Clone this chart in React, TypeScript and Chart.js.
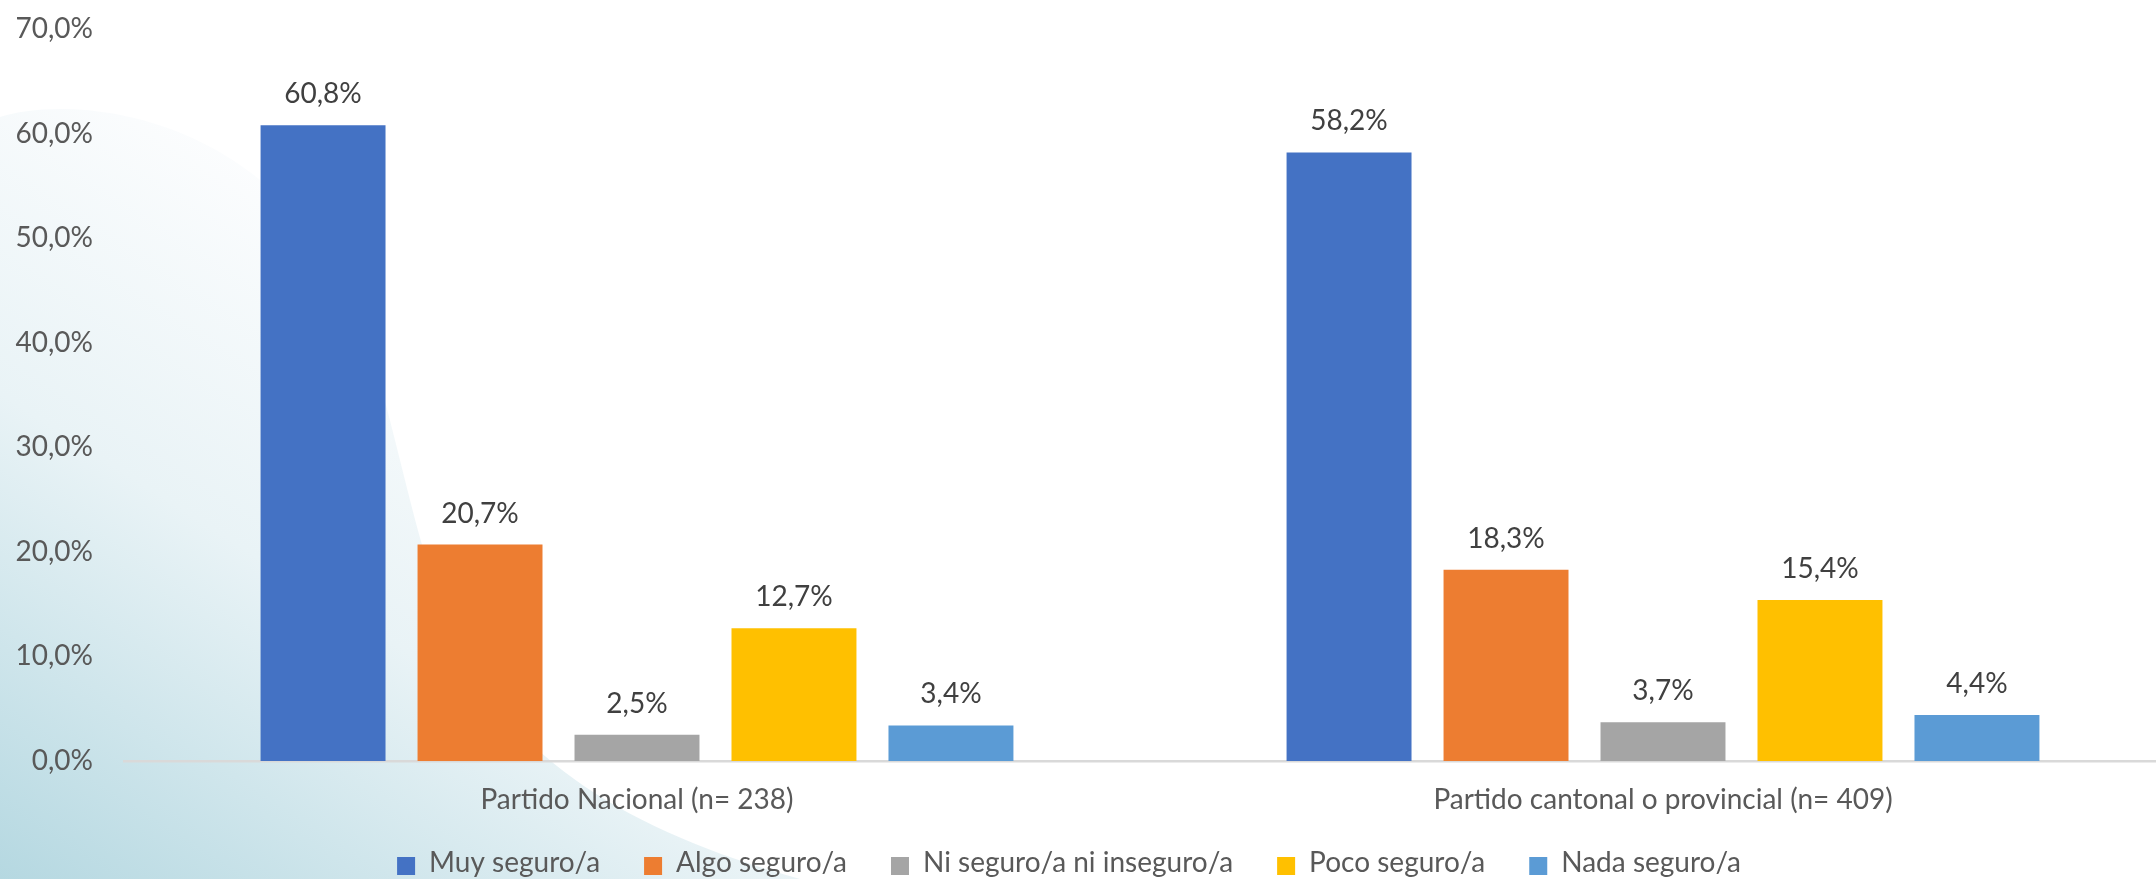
import React, { useEffect, useRef } from "react";
import { Chart, registerables } from "chart.js";

Chart.register(...registerables);

const categories = ["Partido Nacional (n= 238)", "Partido cantonal o provincial (n= 409)"];
const seriesNames = ["Muy seguro/a", "Algo seguro/a", "Ni seguro/a ni inseguro/a", "Poco seguro/a", "Nada seguro/a"];
const muySeguro = [60.8, 58.2];
const algoSeguro = [20.7, 18.3];
const niSeguro = [2.5, 3.7];
const pocoSeguro = [12.7, 15.4];
const nadaSeguro = [3.4, 4.4];
const seriesColors = ["#4472C4", "#ED7D31", "#A5A5A5", "#FFC000", "#5B9BD5"];
const yTicks = [0, 10, 20, 30, 40, 50, 60, 70];

const VIEW_W = 2156;
const VIEW_H = 879;
const CANVAS_W = 2176;
const FONT = "Lato";
const FONT_SIZE = 28;

const fmt = (v: number) => v.toFixed(1).replace(".", ",") + "%";

const backgroundPlugin = {
  id: "bgSwoosh",
  beforeDraw(chart: any) {
    const ctx = chart.ctx;
    ctx.save();
    ctx.fillStyle = "#ffffff";
    ctx.fillRect(0, 0, chart.width, chart.height);
    ctx.beginPath();
    ctx.moveTo(0, 117);
    ctx.bezierCurveTo(60, 98, 210, 105, 310, 230);
    ctx.bezierCurveTo(390, 330, 395, 500, 455, 640);
    ctx.bezierCurveTo(515, 760, 625, 830, 800, 879);
    ctx.lineTo(0, 879);
    ctx.closePath();
    const g = ctx.createLinearGradient(400, 250, 0, 879);
    g.addColorStop(0, "#fcfdfe");
    g.addColorStop(0.45, "#e9f3f6");
    g.addColorStop(1, "#b5d8e1");
    ctx.fillStyle = g;
    ctx.fill();
    ctx.restore();
  },
};

const dataLabelPlugin = {
  id: "barValueLabels",
  afterDatasetsDraw(chart: any) {
    const ctx = chart.ctx;
    ctx.save();
    ctx.font = `${FONT_SIZE}px ${FONT}`;
    ctx.fillStyle = "#404040";
    ctx.textAlign = "center";
    ctx.textBaseline = "middle";
    chart.data.datasets.forEach((ds: any, i: number) => {
      const meta = chart.getDatasetMeta(i);
      meta.data.forEach((el: any, j: number) => {
        ctx.fillText(fmt(ds.data[j]), el.x, el.y - 31);
      });
    });
    ctx.restore();
  },
};

const legendPlugin = {
  id: "bottomLegend",
  afterDraw(chart: any) {
    const ctx = chart.ctx;
    ctx.save();
    ctx.font = `${FONT_SIZE}px ${FONT}`;
    const box = 18;
    const textGap = 14;
    const itemGap = 44;
    const items = chart.data.datasets.map((ds: any) => ({
      label: ds.label,
      color: ds.backgroundColor,
      w: box + textGap + ctx.measureText(ds.label).width,
    }));
    const total = items.reduce((s: number, it: any) => s + it.w, 0) + itemGap * (items.length - 1);
    let x = VIEW_W / 2 - 9 - total / 2;
    const cy = 863;
    ctx.textBaseline = "middle";
    ctx.textAlign = "left";
    items.forEach((it: any) => {
      ctx.fillStyle = it.color;
      ctx.fillRect(x, cy - box / 2 + 3, box, box);
      ctx.fillStyle = "#595959";
      ctx.fillText(it.label, x + box + textGap, cy);
      x += it.w + itemGap;
    });
    ctx.restore();
  },
};

export default function App() {
  const canvasRef = useRef<HTMLCanvasElement | null>(null);

  useEffect(() => {
    if (!canvasRef.current) return;
    const values = [muySeguro, algoSeguro, niSeguro, pocoSeguro, nadaSeguro];
    const chart = new Chart(canvasRef.current, {
      type: "bar",
      data: {
        labels: categories,
        datasets: values.map((d, i) => ({
          label: seriesNames[i],
          data: d,
          backgroundColor: seriesColors[i],
          borderWidth: 0,
          categoryPercentage: 0.765,
          barPercentage: 0.796,
        })),
      },
      options: {
        animation: false,
        responsive: false,
        devicePixelRatio: 1,
        layout: { padding: { top: 29, bottom: 48, left: 0, right: 0 } },
        plugins: {
          legend: { display: false },
          tooltip: { enabled: false },
          title: { display: false },
        },
        scales: {
          x: {
            grid: { display: false, drawTicks: false },
            border: { display: true, color: "#d9d9d9", width: 2.5 },
            ticks: {
              padding: 22,
              color: "#595959",
              font: { family: FONT, size: FONT_SIZE },
              maxRotation: 0,
              autoSkip: false,
            },
            afterFit: (scale: any) => {
              scale.height = 70;
            },
          },
          y: {
            min: 0,
            max: 70,
            grid: { display: false, drawTicks: false },
            border: { display: false },
            afterBuildTicks: (scale: any) => {
              scale.ticks = yTicks.map((v) => ({ value: v }));
            },
            ticks: {
              padding: 31,
              color: "#595959",
              font: { family: FONT, size: FONT_SIZE },
              callback: (v: any) => fmt(Number(v)),
            },
            afterFit: (scale: any) => {
              scale.width = 124;
              scale.paddingTop = 0;
              scale.paddingBottom = 0;
            },
          },
        },
      },
      plugins: [backgroundPlugin, dataLabelPlugin, legendPlugin],
    });
    return () => chart.destroy();
  }, []);

  return (
    <div
      style={{
        position: "fixed",
        left: 0,
        top: 0,
        width: VIEW_W,
        height: VIEW_H,
        overflow: "hidden",
        background: "#ffffff",
      }}
    >
      <canvas
        ref={canvasRef}
        width={CANVAS_W}
        height={VIEW_H}
        style={{ width: CANVAS_W, height: VIEW_H, display: "block" }}
      />
    </div>
  );
}
